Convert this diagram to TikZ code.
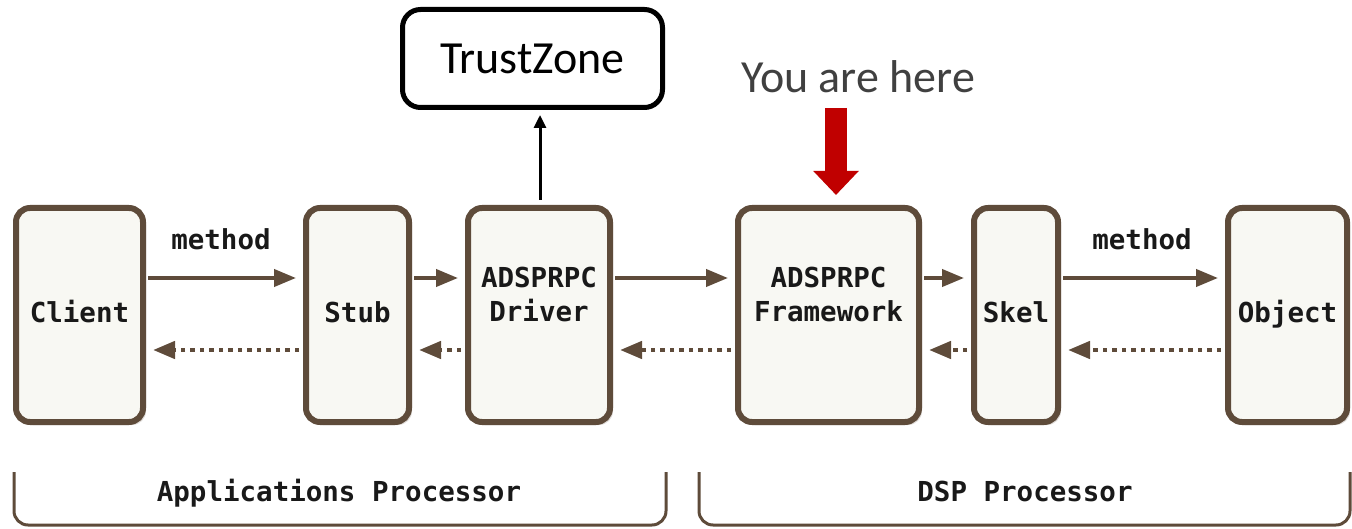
\documentclass[tikz,border=0pt]{standalone}
\usepackage{fontspec}
\newfontfamily\monof{DejaVu Sans Mono}
\newfontfamily\calib{Carlito}
\usetikzlibrary{arrows.meta,shadows}
\definecolor{brn}{HTML}{5E4B3A}
\definecolor{boxfill}{HTML}{F8F8F3}
\definecolor{redarr}{HTML}{C00000}
\definecolor{greytxt}{HTML}{404040}
\begin{document}
\begin{tikzpicture}[x=1pt,y=-1pt,
  blk/.style={draw=brn, line width=6pt, fill=boxfill, rounded corners=14pt, inner sep=0pt,
    minimum height=214pt,
    drop shadow={shadow xshift=3pt, shadow yshift=-3pt, opacity=0.35, fill=brn!60}},
  lbl/.style={font=\monof\bfseries\fontsize{27.5}{35}\selectfont, anchor=base, inner sep=0pt, text=black!90},
  fwd/.style={draw=brn, line width=4pt, -{Triangle[length=22pt,width=17pt]}, shorten <=2pt, shorten >=7pt},
  bwd/.style={draw=brn, line width=4.5pt, dash pattern=on 4.5pt off 5pt, -{Triangle[length=22pt,width=17pt]}, shorten <=4pt, shorten >=7pt},
  bracket/.style={draw=brn, line width=3pt, rounded corners=14pt},
  big/.style={font=\calib\fontsize{46}{50}\selectfont}
]
\useasboundingbox (0,0) rectangle (1352,529);

% boxes
\node[blk, minimum width=127pt] (client) at (79.5,315) {};
\node[blk, minimum width=103pt] (stub) at (357.5,315) {};
\node[blk, minimum width=142pt] (driver) at (539,315) {};
\node[blk, minimum width=181pt] (framework) at (828.5,315) {};
\node[blk, minimum width=84pt] (skel) at (1016,315) {};
\node[blk, minimum width=119pt] (object) at (1287.5,315) {};

% box labels
\node[lbl] (clientt) at (79.5,323) {Client};
\node[lbl] (stubt) at (357.5,323) {Stub};
\node[lbl] (drivert) at (539,322) {\begin{tabular}[b]{@{}c@{}}ADSPRPC\\Driver\end{tabular}};
\node[lbl] (frameworkt) at (828.5,322) {\begin{tabular}[b]{@{}c@{}}ADSPRPC\\Framework\end{tabular}};
\node[lbl] (skelt) at (1016,323) {Skel};
\node[lbl] (objectt) at (1287.5,323) {Object};

% method labels
\node[lbl] (m1) at (221,250) {method};
\node[lbl] (m2) at (1142,250) {method};

% forward arrows
\draw[fwd] ([yshift=37pt]client.east) -- ([yshift=37pt]stub.west);
\draw[fwd] ([yshift=37pt]stub.east) -- ([yshift=37pt]driver.west);
\draw[fwd] ([yshift=37pt]driver.east) -- ([yshift=37pt]framework.west);
\draw[fwd] ([yshift=37pt]framework.east) -- ([yshift=37pt]skel.west);
\draw[fwd] ([yshift=37pt]skel.east) -- ([yshift=37pt]object.west);

% return arrows
\draw[bwd] ([yshift=-35pt]stub.west) -- ([yshift=-35pt]client.east);
\draw[bwd] ([yshift=-35pt]driver.west) -- ([yshift=-35pt]stub.east);
\draw[bwd] ([yshift=-35pt]framework.west) -- ([yshift=-35pt]driver.east);
\draw[bwd] ([yshift=-35pt]skel.west) -- ([yshift=-35pt]framework.east);
\draw[bwd] ([yshift=-35pt]object.west) -- ([yshift=-35pt]skel.east);

% TrustZone
\node[big, draw=black, line width=5pt, rounded corners=18pt, minimum width=260pt,
      minimum height=98pt, inner sep=0pt] (tz) at (532.5,58.5) {TrustZone};
\draw[line width=3pt, -{Triangle[length=13pt,width=12pt]}, shorten <=5pt, shorten >=5pt]
  ([xshift=1pt]driver.north) -- ([xshift=1pt]driver.north |- tz.south);

% You are here
\node[big, text=greytxt, anchor=base, inner sep=0pt] (yah) at (858,93) {You are here};
\coordinate (ya) at (836,108);
\draw[draw=redarr, line width=22pt, -{Triangle[length=24pt,width=44pt]}, shorten >=10pt]
  (ya) -- (ya |- framework.north);

% processor brackets
\draw[bracket] (14,472) -- (14,525) -- (666,525) -- (666,472);
\draw[bracket] (699,472) -- (699,525) -- (1350,525) -- (1350,472);
\node[lbl] (app) at (339,501) {Applications Processor};
\node[lbl] (dsp) at (1025,501) {DSP Processor};
\end{tikzpicture}
\end{document}
